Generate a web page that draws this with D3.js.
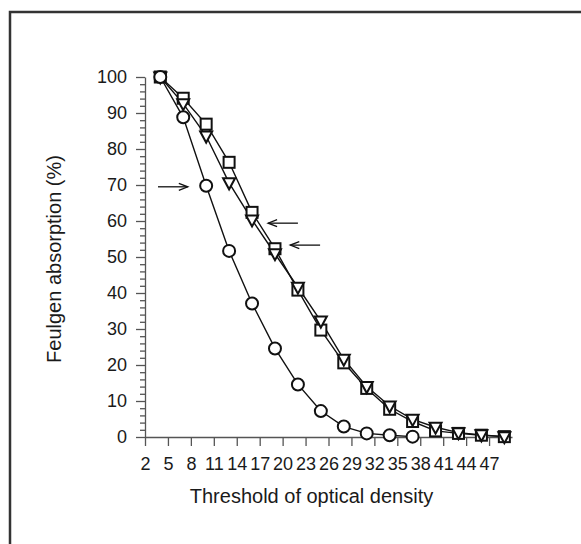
<!DOCTYPE html>
<html>
<head>
<meta charset="utf-8">
<script src="https://cdn.jsdelivr.net/npm/d3@7"></script>
<style>
  body { margin: 0; background: #fff; }
  text { font-family: "Liberation Sans", Arial, sans-serif; fill: #1a1a1a; }
</style>
</head>
<body>
<div id="chart"></div>
<script>
// Threshold values (x) and Feulgen absorption (%) per series
const thresholds = [4, 7, 10, 13, 16, 19, 22, 25, 28, 31, 34, 37, 40, 43, 46, 49];
const circleValues = [100, 88.8, 69.8, 51.7, 37.1, 24.6, 14.6, 7.2, 2.9, 1.0, 0.5, 0.1];
const squareValues = [100, 94.1, 86.9, 76.3, 62.4, 52.3, 40.8, 29.7, 20.6, 13.5, 7.7, 4.3, 1.7, 1.0, 0.5, 0.1];
const triangleValues = [100, 92.6, 83.6, 70.6, 60.3, 50.9, 41.6, 32.2, 21.6, 14.0, 8.6, 4.9, 2.7, 1.2, 0.6, 0.1];
const xTickValues = [2, 5, 8, 11, 14, 17, 20, 23, 26, 29, 32, 35, 38, 41, 44, 47];
const yTickValues = [0, 10, 20, 30, 40, 50, 60, 70, 80, 90, 100];
// arrows: [x tail, x head, y] in data units
const arrows = [
  [3.7, 7.6, 69.5],
  [22.0, 18.1, 59.4],
  [24.9, 21.0, 53.3]
];

const W = 581, H = 544;

const svg = d3.select("#chart")
  .append("svg")
    .attr("width", W)
    .attr("height", H);

// outer frame (runs off the right and bottom edge)
svg.append("rect")
  .attr("x", 10).attr("y", 12)
  .attr("width", 700).attr("height", 700)
  .attr("fill", "none")
  .attr("stroke", "#333")
  .attr("stroke-width", 2.5);

const x = d3.scaleLinear().domain([2, 50]).range([145, 512]);
const y = d3.scaleLinear().domain([0, 100]).range([437, 77]);

const axisColor = "#555";

// Y axis, major ticks
const yAxis = svg.append("g")
  .attr("transform", `translate(${x(2)},0)`)
  .call(d3.axisLeft(y).tickValues(yTickValues).tickSize(9).tickSizeOuter(0).tickPadding(9));
yAxis.selectAll("text").style("font-size", "18px");

// Y axis, minor ticks every 2
const minor = d3.range(0, 101, 2).filter(d => d % 10 !== 0);
svg.append("g")
  .attr("transform", `translate(${x(2)},0)`)
  .call(d3.axisLeft(y).tickValues(minor).tickSize(5).tickFormat(""))
  .call(g => g.select(".domain").remove());

// X axis
const xAxis = svg.append("g")
  .attr("transform", `translate(0,${y(0)})`)
  .call(d3.axisBottom(x).tickValues(xTickValues).tickSize(9).tickSizeOuter(0).tickPadding(11.5));
xAxis.selectAll("text").style("font-size", "18px");

svg.selectAll(".domain, .tick line")
  .attr("stroke", axisColor)
  .attr("stroke-width", 1.3);

// axis titles
svg.append("text")
  .attr("x", 311.5)
  .attr("y", 503)
  .attr("text-anchor", "middle")
  .style("font-size", "20px")
  .text("Threshold of optical density");

svg.append("text")
  .attr("transform", `translate(61,259) rotate(-90)`)
  .attr("text-anchor", "middle")
  .style("font-size", "20px")
  .text("Feulgen absorption (%)");

// series
const series = [
  { name: "circle", values: circleValues },
  { name: "square", values: squareValues },
  { name: "triangle", values: triangleValues }
];

const line = d3.line()
  .x((d, i) => x(thresholds[i]))
  .y(d => y(d));

svg.append("g").selectAll("path")
  .data(series)
  .join("path")
    .attr("d", d => line(d.values))
    .attr("fill", "none")
    .attr("stroke", "#111")
    .attr("stroke-width", 1.4);

// markers
const markerG = svg.append("g")
  .attr("fill", "#fff")
  .attr("stroke", "#111")
  .attr("stroke-width", 2);

markerG.selectAll(".sq")
  .data(squareValues)
  .join("rect")
    .attr("class", "sq")
    .attr("x", (d, i) => x(thresholds[i]) - 5.5)
    .attr("y", d => y(d) - 5.5)
    .attr("width", 11)
    .attr("height", 11);

markerG.selectAll(".tri")
  .data(triangleValues)
  .join("path")
    .attr("class", "tri")
    .attr("transform", (d, i) => `translate(${x(thresholds[i])},${y(d)})`)
    .attr("d", "M-6,-4.5L6,-4.5L0,6.5Z");

markerG.selectAll(".circ")
  .data(circleValues)
  .join("circle")
    .attr("class", "circ")
    .attr("cx", (d, i) => x(thresholds[i]))
    .attr("cy", d => y(d))
    .attr("r", 6);

// arrows
const arrowG = svg.append("g")
  .attr("stroke", "#111")
  .attr("fill", "none")
  .attr("stroke-width", 1.3);

arrows.forEach(([x0, x1, yv]) => {
  const xa = x(x0), xb = x(x1), yy = y(yv);
  const dir = xb > xa ? 1 : -1;
  arrowG.append("path")
    .attr("d", `M${xa},${yy}L${xb},${yy}`);
  arrowG.append("path")
    .attr("d", `M${xb - dir * 9},${yy - 3.5}L${xb},${yy}L${xb - dir * 9},${yy + 3.5}`);
});
</script>
</body>
</html>
